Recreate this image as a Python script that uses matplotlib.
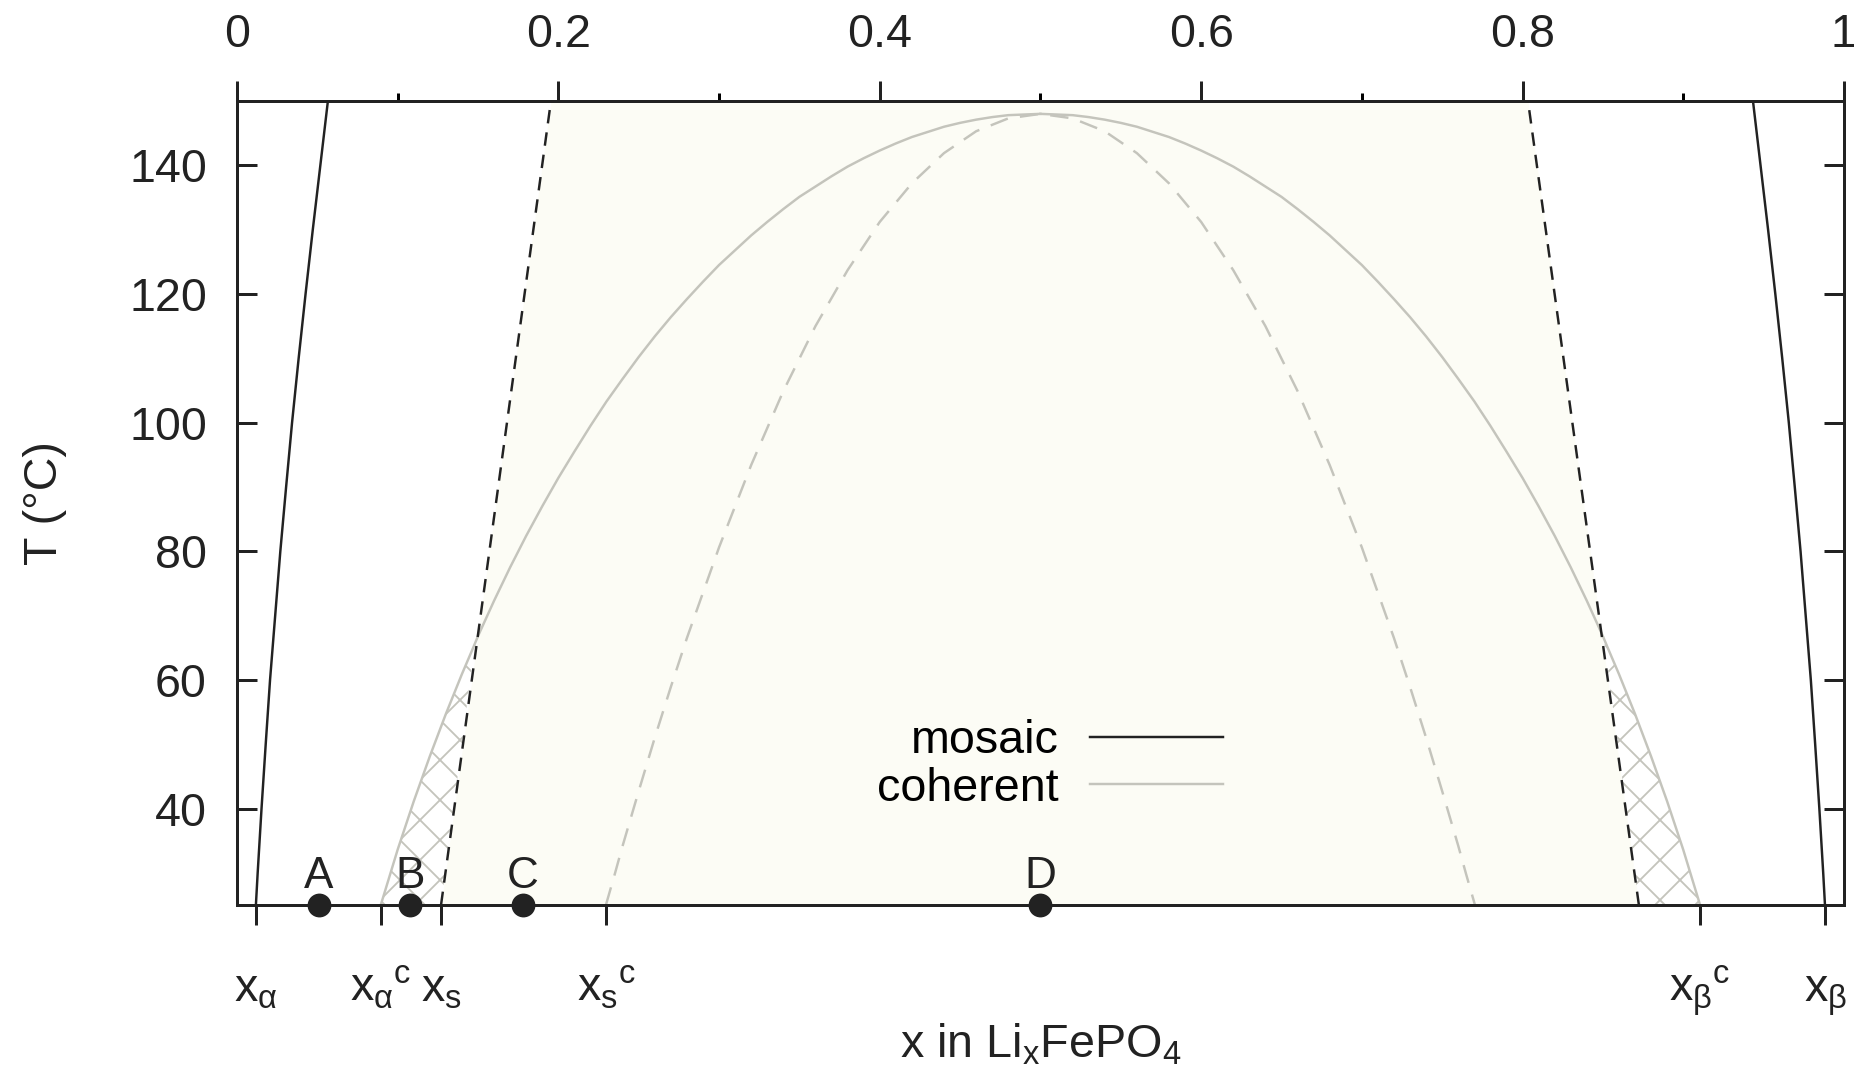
import matplotlib
matplotlib.use('Agg')
import matplotlib.pyplot as plt
from matplotlib.lines import Line2D
from matplotlib.ticker import MultipleLocator
from matplotlib.transforms import blended_transform_factory

plt.rcParams['font.family'] = ['Liberation Sans', 'DejaVu Sans']
plt.rcParams['mathtext.fontset'] = 'custom'
plt.rcParams['mathtext.rm'] = 'Liberation Sans'
plt.rcParams['mathtext.it'] = 'Liberation Sans'
plt.rcParams['hatch.linewidth'] = 1.1

# mosaic solubility limits (black solid)
mosaic_T = [25, 30, 40, 50, 60, 70, 80, 90, 100, 110, 120, 130, 140, 150]
mosaic_left_x = [0.0118, 0.0129, 0.0153, 0.0179, 0.0206, 0.0238, 0.0270,
                 0.0306, 0.0343, 0.0384, 0.0427, 0.0472, 0.0519, 0.0566]
mosaic_right_x = [0.9882, 0.9871, 0.9847, 0.9821, 0.9794, 0.9762, 0.9730,
                  0.9694, 0.9657, 0.9616, 0.9573, 0.9528, 0.9481, 0.9434]

# mosaic spinodal (black dashed)
mspin_T = [25, 150]
mspin_left_x = [0.127, 0.1954]
mspin_right_x = [0.8724, 0.8034]

# coherent miscibility gap (grey solid), left and right branches
cohL_x = [0.0895, 0.095, 0.10, 0.11, 0.12, 0.13, 0.14, 0.147, 0.15, 0.16,
          0.17, 0.18, 0.19, 0.20, 0.21, 0.22, 0.23, 0.24, 0.25, 0.26, 0.27,
          0.28, 0.29, 0.30, 0.31, 0.32, 0.33, 0.34, 0.35, 0.36, 0.37, 0.38,
          0.39, 0.40, 0.41, 0.42, 0.43, 0.44, 0.45, 0.46, 0.47, 0.48, 0.49,
          0.50]
cohL_T = [25.0, 29.5, 33.6, 41.1, 48.1, 54.7, 60.9, 65.0, 66.8, 72.3,
          77.5, 82.4, 87.0, 91.4, 95.5, 99.5, 103.3, 106.8, 110.2, 113.4, 116.4,
          119.2, 121.9, 124.5, 126.8, 129.1, 131.2, 133.2, 135.1, 136.7, 138.3, 139.8,
          141.1, 142.3, 143.4, 144.4, 145.2, 146.0, 146.6, 147.1, 147.5, 147.8, 147.9,
          148.0]
cohR_x = [0.9105, 0.905, 0.90, 0.89, 0.88, 0.87, 0.86, 0.853, 0.85, 0.84,
          0.83, 0.82, 0.81, 0.80, 0.79, 0.78, 0.77, 0.76, 0.75, 0.74, 0.73,
          0.72, 0.71, 0.70, 0.69, 0.68, 0.67, 0.66, 0.65, 0.64, 0.63, 0.62,
          0.61, 0.60, 0.59, 0.58, 0.57, 0.56, 0.55, 0.54, 0.53, 0.52, 0.51,
          0.50]
cohR_T = [25.0, 29.5, 33.6, 41.1, 48.1, 54.7, 60.9, 65.0, 66.8, 72.3,
          77.5, 82.4, 87.0, 91.4, 95.5, 99.5, 103.3, 106.8, 110.2, 113.4, 116.4,
          119.2, 121.9, 124.5, 126.8, 129.1, 131.2, 133.2, 135.1, 136.7, 138.3, 139.8,
          141.1, 142.3, 143.4, 144.4, 145.2, 146.0, 146.6, 147.1, 147.5, 147.8, 147.9,
          148.0]

# coherent spinodal (grey dashed)
cspin_x = [0.2296, 0.235, 0.24, 0.25, 0.26, 0.27, 0.28, 0.30, 0.32, 0.34,
           0.36, 0.38, 0.40, 0.42, 0.44, 0.46, 0.48, 0.50, 0.52, 0.54, 0.56,
           0.58, 0.60, 0.62, 0.64, 0.66, 0.68, 0.70, 0.72, 0.73, 0.74, 0.75,
           0.76, 0.765, 0.7704]
cspin_T = [25.0, 29.7, 34.2, 42.7, 51.0, 58.9, 66.5, 80.6, 93.4, 104.9,
           115.0, 123.7, 131.2, 137.2, 141.9, 145.3, 147.3, 148.0, 147.3, 145.3, 141.9,
           137.2, 131.2, 123.7, 115.0, 104.9, 93.4, 80.6, 66.5, 58.9, 51.0, 42.7,
           34.2, 29.7, 25.0]

# crossing of mosaic spinodal and coherent gap
cross_left = (0.148, 65.6)
cross_right = (0.851, 65.6)

# states A-D at room temperature
state_names = ['A', 'B', 'C', 'D']
state_x = [0.051, 0.1077, 0.178, 0.50]
state_T = 25

top_ticks = [0, 0.2, 0.4, 0.6, 0.8, 1.0]
top_labels = ['0', '0.2', '0.4', '0.6', '0.8', '1']
y_ticks = [40, 60, 80, 100, 120, 140]
bottom_labels = [r'$x_\alpha$', r'$x_\alpha{}^c$', r'$x_s$',
                 r'$x_s{}^c$', r'$x_\beta{}^c$', r'$x_\beta$']

ink = '#222222'
grey = '#c4c4bc'
fs = 28
lw = 1.47

fig = plt.figure(figsize=(1854 / 120, 1072 / 120), dpi=120)
ax = fig.add_axes([0.1278, 0.15578, 0.86677, 0.75])
ax.set_xlim(0, 1)
ax.set_ylim(25, 150)

ax.fill_betweenx(mspin_T, mspin_left_x, mspin_right_x, color='#fcfcf5',
                 linewidth=0, zorder=0)

# hatched coherent/mosaic overlap
k = cohL_x.index(0.147) + 1
hl_x = cohL_x[:k] + [cross_left[0], mspin_left_x[0]]
hl_T = cohL_T[:k] + [cross_left[1], mspin_T[0]]
ax.fill(hl_x, hl_T, facecolor='none', edgecolor=grey, hatch='x',
        linewidth=0, zorder=1)
hr_x = cohR_x[:k] + [cross_right[0], mspin_right_x[0]]
hr_T = cohR_T[:k] + [cross_right[1], mspin_T[0]]
ax.fill(hr_x, hr_T, facecolor='none', edgecolor=grey, hatch='x',
        linewidth=0, zorder=1)

ax.plot(cohL_x, cohL_T, color=grey, lw=lw, zorder=2)
ax.plot(cohR_x, cohR_T, color=grey, lw=lw, zorder=2)
ax.plot(cspin_x, cspin_T, color=grey, lw=lw, dashes=(7.5, 5), zorder=2)
ax.plot(mosaic_left_x, mosaic_T, color=ink, lw=lw, zorder=3)
ax.plot(mosaic_right_x, mosaic_T, color=ink, lw=lw, zorder=3)
ax.plot(mspin_left_x, mspin_T, color=ink, lw=lw, dashes=(5.5, 3.7), zorder=3)
ax.plot(mspin_right_x, mspin_T, color=ink, lw=lw, dashes=(5.5, 3.7), zorder=3)

ax.plot(state_x, [state_T] * len(state_x), 'o', color=ink, ms=13.3,
        clip_on=False, zorder=5)
for name, sx in zip(state_names, state_x):
    ax.annotate(name, (sx, state_T), xytext=(0, 10.1), textcoords='offset points',
                ha='center', va='baseline', fontsize=26.5, color=ink)

for sp in ax.spines.values():
    sp.set_linewidth(1.8)
    sp.set_color(ink)

# bottom: special compositions at 25 C
bottom_ticks = [mosaic_left_x[0], cohL_x[0], mspin_left_x[0],
                cspin_x[0], cohR_x[0], mosaic_right_x[0]]
ax.set_xticks(bottom_ticks)
ax.set_xticklabels([])
ax.tick_params(axis='x', direction='out', length=12, width=1.8, colors=ink)
trans = blended_transform_factory(ax.transData, ax.transAxes)
for bx, bl in zip(bottom_ticks, bottom_labels):
    ax.text(bx, -0.12, bl, transform=trans, ha='center', va='baseline',
            fontsize=fs, color=ink)

ax.set_yticks(y_ticks)
ax.tick_params(axis='y', direction='in', length=12, width=1.8, pad=18,
               labelsize=fs, colors=ink, right=True)

sec = ax.secondary_xaxis('top')
sec.set_xticks(top_ticks)
sec.set_xticklabels(top_labels)
sec.xaxis.set_minor_locator(MultipleLocator(0.1))
sec.tick_params(which='major', direction='out', length=12, width=1.8,
                pad=14.4, labelsize=fs, colors=ink)
sec.tick_params(which='minor', direction='out', length=4.8, width=1.8)
sec.spines['top'].set_linewidth(1.8)

ax.set_xlabel(r'x in Li$_\mathrm{x}$FePO$_4$', fontsize=fs, color=ink)
ax.xaxis.set_label_coords(0.5, -0.1456)
ax.set_ylabel('T (°C)', fontsize=fs, color=ink)
ax.yaxis.set_label_coords(-0.1055, 0.5)

handles = [Line2D([], [], color=ink, lw=lw), Line2D([], [], color=grey, lw=lw)]
ax.legend(handles, ['mosaic', 'coherent'], markerfirst=False, frameon=False,
          loc='center', bbox_to_anchor=(0.5058, 0.174), fontsize=fs,
          handlelength=2.84, handletextpad=0.68, labelspacing=0.07,
          borderpad=0)

fig.savefig('out.png', dpi=120)
